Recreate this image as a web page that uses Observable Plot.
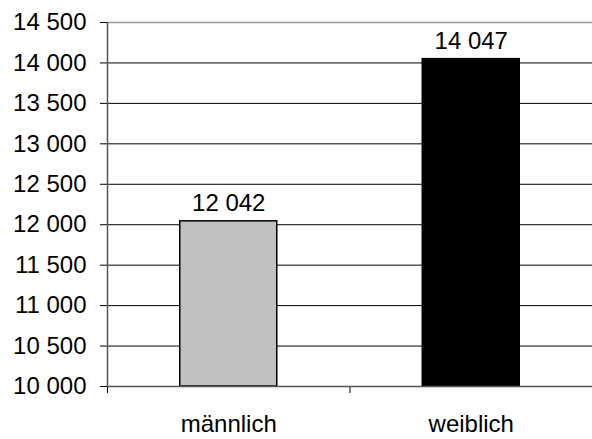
<!DOCTYPE html>
<html>
<head>
<meta charset="utf-8">
<script src="https://cdn.jsdelivr.net/npm/d3@7"></script>
<script src="https://cdn.jsdelivr.net/npm/@observablehq/plot@0.6"></script>
<style>
  html, body { margin: 0; padding: 0; background: #fff; }
  svg { font-family: "Liberation Sans", Arial, sans-serif; }
</style>
</head>
<body>
<div id="chart"></div>
<script>
const categories = ["männlich", "weiblich"];
const values = [12042, 14047];
const colors = ["#c0c0c0", "#000000"];
const yTicks = [10000, 10500, 11000, 11500, 12000, 12500, 13000, 13500, 14000, 14500];

const fmt = v => d3.format(",")(v).replace(/,/g, " ");
const data = categories.map((c, i) => ({ cat: c, pos: i + 0.5, value: values[i], color: colors[i] }));
const halfWidth = 0.2;

const chart = Plot.plot({
  width: 592,
  height: 439,
  marginLeft: 107,
  marginRight: 0,
  marginTop: 22,
  marginBottom: 53,
  style: { fontSize: "24px", fontFamily: "Liberation Sans, Arial, sans-serif", color: "#000", background: "#fff" },
  x: { domain: [0, categories.length], label: null },
  y: { domain: [10000, 14500], label: null },
  marks: [
    Plot.ruleY(yTicks.slice(1, -1), { stroke: "#000", strokeWidth: 1 }),
    Plot.ruleY([14500], { stroke: "#9a9a9a", strokeWidth: 1.5 }),
    Plot.rectY(data, {
      x1: d => d.pos - halfWidth,
      x2: d => d.pos + halfWidth,
      y1: 10000,
      y2: "value",
      fill: d => d.color,
      stroke: "#000",
      strokeWidth: 1.5
    }),
    Plot.text(data, {
      x: "pos",
      y: "value",
      text: d => fmt(d.value),
      dy: -18,
      fontSize: 24,
      fill: "#000"
    }),
    Plot.axisY({
      ticks: yTicks,
      tickFormat: fmt,
      tickSize: 7,
      tickPadding: 14,
      stroke: "#000",
      fontSize: 24,
      color: "#000",
      label: null
    }),
    Plot.axisX({
      ticks: data.map(d => d.pos),
      tickFormat: v => categories[Math.floor(v)],
      tickSize: 0,
      tickPadding: 28,
      fontSize: 24,
      label: null
    }),
    Plot.ruleX(d3.range(categories.length), { y1: 10000, y2: 10000, stroke: "#000", strokeWidth: 1, insetBottom: -7 }),
    Plot.ruleY([10000], { stroke: "#555", strokeWidth: 1.5 }),
    Plot.ruleX([0], { stroke: "#555", strokeWidth: 1.5 })
  ]
});
document.getElementById("chart").appendChild(chart);
</script>
</body>
</html>
